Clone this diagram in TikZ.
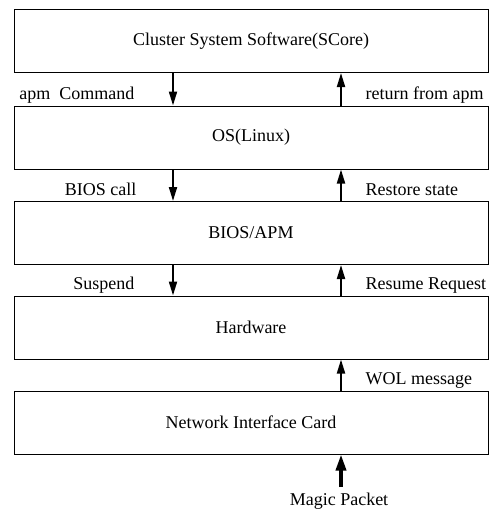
\documentclass[tikz,border=0pt]{standalone}
\usepackage{fontspec}
\setmainfont{Liberation Serif}
\usetikzlibrary{arrows.meta}

\tikzset{
  layer/.style={draw, line width=1pt, minimum width=474pt, minimum height=63pt, inner sep=0pt},
  flow/.style={line width=2pt, -{Triangle[length=14pt,width=8pt]}},
  wake/.style={line width=3.5pt, -{Triangle[length=16pt,width=10pt]}}
}

\begin{document}
\begin{tikzpicture}[x=1pt, y=-1pt, font=\fontsize{18}{21}\selectfont]
	\useasboundingbox (0,0) rectangle (490,509);

	% layers
	\foreach \n/\y/\t in {scs/41/{Cluster System Software(SCore)}, os/137.5/{OS(Linux)},
		bios/233/{BIOS/APM}, hw/327.5/{Hardware}, nic/422.5/{Network Interface Card}}
	\node[layer] (\n) at (251,\y) {\t};

	% arrow columns
	\coordinate (dnx) at (173,0);
	\coordinate (upx) at (341,0);

	% going down
	\foreach \a/\b in {scs/os, os/bios, bios/hw}
	\draw[flow] (\a.south -| dnx) -- (\b.north -| dnx);

	% coming back up
	\foreach \a/\b in {os/scs, bios/os, hw/bios, nic/hw}
	\draw[flow] (\a.north -| upx) -- (\b.south -| upx);

	% labels
	\node[anchor=base east] (cmd) at (138,99) {apm\ \ Command};
	\node[anchor=base east] (call) at (140,195) {BIOS call};
	\node[anchor=base east] (susp) at (138,289) {Suspend};
	\node[anchor=base west] (ret) at (362,99) {return from apm};
	\node[anchor=base west] (rest) at (362,195) {Restore state};
	\node[anchor=base west] (resm) at (362,289) {Resume Request};
	\node[anchor=base west] (wol) at (362,384) {WOL message};

	% magic packet
	\node[anchor=base, inner sep=1pt] (magic) at (339,505) {Magic Packet};
	\coordinate (mp) at (341,487);
	\draw[wake] (mp) -- (nic.south -| upx);
\end{tikzpicture}
\end{document}
